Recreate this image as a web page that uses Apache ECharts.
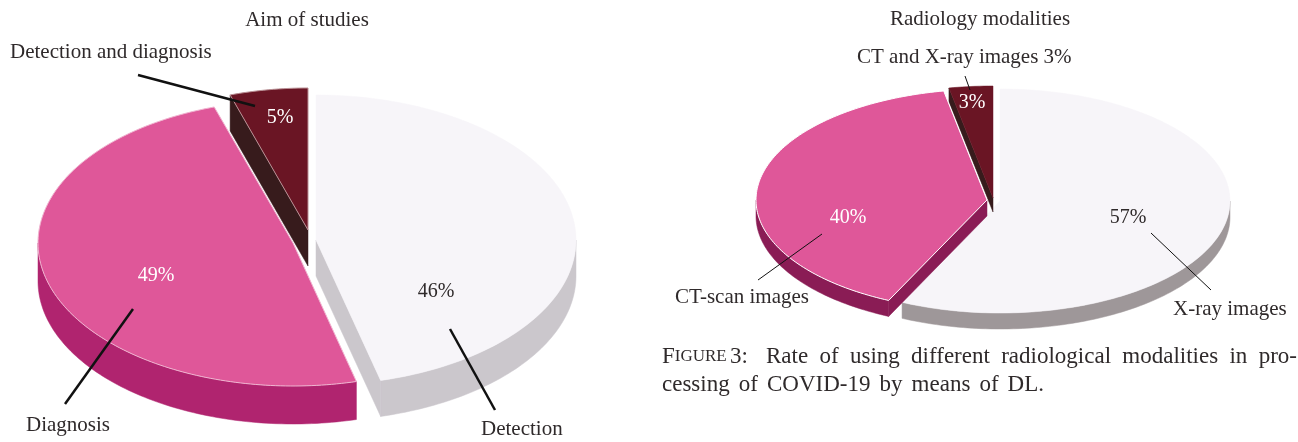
<!DOCTYPE html>
<html>
<head>
<meta charset="utf-8">
<title>Aim of studies and radiology modalities</title>
<script src="https://cdn.jsdelivr.net/npm/echarts@6/dist/echarts.min.js"></script>
<style>
  html, body { margin: 0; padding: 0; background: #fff; }
  #chart { width: 1298px; height: 442px; }
</style>
</head>
<body>
<div id="chart"></div>
<script>
// values
var aimCategories = ['Detection', 'Diagnosis', 'Detection and diagnosis'];
var aimValues = [46, 49, 5];
var modalityCategories = ['X-ray images', 'CT-scan images', 'CT and X-ray images'];
var modalityValues = [57, 40, 3];

var SERIF = '"Liberation Serif", serif';
var INK = '#2f2a2b';

// each slice is pulled out on its own, so every one has its own ellipse
var aimLayout = [
  { cx: 316, cy: 240, rx: 260, ry: 145, depth: 36, top: '#f7f5f9', wall: '#cbc7cc', cut: '#cbc7cc', z: 1, lx: 436, ly: 292, lc: INK },
  { cx: 293, cy: 243, rx: 255, ry: 143, depth: 38, top: '#df5799', wall: '#b0246f', cut: '#b0246f', z: 3, lx: 156, ly: 276, lc: '#fff', line: '#f0b4d0' },
  { cx: 308, cy: 230, rx: 252, ry: 142, depth: 36, top: '#6a1524', wall: '#371b1c', cut: '#371b1c', z: 2, lx: 280, ly: 118, lc: '#fff', line: '#b98f94' }
];
var modalityLayout = [
  { cx: 1000, cy: 201, rx: 230, ry: 112, depth: 16, top: '#f7f5f9', wall: '#9e9799', cut: '#9e9799', z: 1, lx: 1128, ly: 218, lc: INK },
  { cx: 987, cy: 200, rx: 231, ry: 111, depth: 16, top: '#df5799', wall: '#8a1c55', cut: '#8a1c55', z: 3, lx: 848, ly: 218, lc: '#fff', line: '#fff' },
  { cx: 993, cy: 198, rx: 235, ry: 112, depth: 14, top: '#6a1524', wall: '#371b1c', cut: '#371b1c', z: 2, lx: 972, ly: 103, lc: '#fff' }
];

function toRad(pct) { return pct / 100 * Math.PI * 2; }

function rimPoint(s, a) {
  return [s.cx + s.rx * Math.sin(a), s.cy - s.ry * Math.cos(a)];
}

function arcPoints(s, a0, a1) {
  var pts = [];
  var n = Math.max(2, Math.ceil((a1 - a0) / 0.02));
  for (var i = 0; i <= n; i++) pts.push(rimPoint(s, a0 + (a1 - a0) * i / n));
  return pts;
}

function dropped(pts, d) {
  return pts.map(function (p) { return [p[0], p[1] + d]; }).reverse();
}

function poly(points, fill, z2, stroke) {
  return {
    type: 'polygon', z2: z2, shape: { points: points },
    style: { fill: fill, stroke: stroke || fill, lineWidth: stroke ? 1 : 0.5 }
  };
}

// one extruded slice, from top of the pie going clockwise
function pieSeries(values, categories, layout) {
  return {
    type: 'custom',
    coordinateSystem: 'none',
    silent: true,
    animation: false,
    data: values.map(function (v, i) { return { name: categories[i], value: [v] }; }),
    renderItem: function (params, api) {
      var s = layout[params.dataIndex];
      var before = 0;
      for (var i = 0; i < params.dataIndex; i++) before += values[i];
      var a0 = toRad(before);
      var a1 = toRad(before + api.value(0));
      var centre = [s.cx, s.cy];
      var kids = [];
      // outer wall only shows on the front half
      var w0 = Math.max(a0, Math.PI / 2);
      var w1 = Math.min(a1, Math.PI * 1.5);
      if (w1 > w0) {
        var rim = arcPoints(s, w0, w1);
        kids.push(poly(rim.concat(dropped(rim, s.depth)), s.wall, s.z));
      }
      // cut faces, when they turn towards the viewer
      [[a0, Math.sin(a0) < -0.01], [a1, Math.sin(a1) > 0.01]].forEach(function (f) {
        if (!f[1]) return;
        var edge = [centre, rimPoint(s, f[0])];
        kids.push(poly(edge.concat(dropped(edge, s.depth)), s.cut, s.z));
      });
      kids.push(poly([centre].concat(arcPoints(s, a0, a1)), s.top, s.z, s.line));
      kids.push({
        type: 'text', z2: 20,
        style: { text: api.value(0) + '%', x: s.lx, y: s.ly, fill: s.lc, font: '20px ' + SERIF, align: 'center', verticalAlign: 'middle' }
      });
      return { type: 'group', children: kids };
    }
  };
}

function label(text, x, y, align) {
  return {
    type: 'text', z: 20, silent: true, x: x, y: y,
    style: { text: text, fill: INK, font: '21px ' + SERIF, align: align || 'left', verticalAlign: 'middle' }
  };
}

function leader(x1, y1, x2, y2, w) {
  return {
    type: 'line', z: 19, silent: true,
    shape: { x1: x1, y1: y1, x2: x2, y2: y2 },
    style: { stroke: '#111', lineWidth: w }
  };
}

// caption: words spread out so both lines end where they do in the paper
var CAPTION_FONT = '23px ' + SERIF;
var measure = document.createElement('canvas').getContext('2d');
function textWidth(t) { measure.font = CAPTION_FONT; return measure.measureText(t).width; }

function captionLine(words, y, x0, x1) {
  var total = 0;
  words.forEach(function (w) { total += textWidth(w); });
  var gap = (x1 - x0 - total) / (words.length - 1);
  var x = x0;
  return words.map(function (w) {
    var el = { type: 'text', z: 20, silent: true, x: x, y: y, style: { text: w, fill: INK, font: CAPTION_FONT, verticalAlign: 'middle' } };
    x += textWidth(w) + gap;
    return el;
  });
}

var figureLabel = {
  type: 'text', z: 20, silent: true, x: 662, y: 357,
  style: {
    text: '{a|F}{b|IGURE} {a|3:}', verticalAlign: 'middle',
    rich: {
      a: { font: CAPTION_FONT, fill: INK },
      b: { font: '17px ' + SERIF, fill: INK }
    }
  }
};

var chart = echarts.init(document.getElementById('chart'));
chart.setOption({
  backgroundColor: '#fff',
  tooltip: { show: false },
  series: [
    pieSeries(aimValues, aimCategories, aimLayout),
    pieSeries(modalityValues, modalityCategories, modalityLayout)
  ],
  graphic: {
    elements: [
      label('Aim of studies', 307, 20, 'center'),
      label('Radiology modalities', 980, 19, 'center'),
      label(aimCategories[2], 10, 52),
      label(aimCategories[1], 26, 425),
      label(aimCategories[0], 481, 429),
      label(modalityCategories[2] + ' ' + modalityValues[2] + '%', 857, 57),
      label(modalityCategories[1], 675, 297),
      label(modalityCategories[0], 1173, 309),
      leader(138, 75, 255, 106, 2.5),
      leader(133, 309, 65, 404, 2.5),
      leader(450, 329, 495, 410, 2.5),
      leader(965, 76, 970, 90, 1),
      leader(822, 234, 758, 280, 1),
      leader(1151, 233, 1211, 290, 1),
      figureLabel
    ].concat(
      captionLine(['Rate', 'of', 'using', 'different', 'radiological', 'modalities', 'in', 'pro-'], 357, 766, 1297),
      captionLine(['cessing', 'of', 'COVID-19', 'by', 'means', 'of', 'DL.'], 385, 662, 1044)
    )
  }
});
</script>
</body>
</html>
